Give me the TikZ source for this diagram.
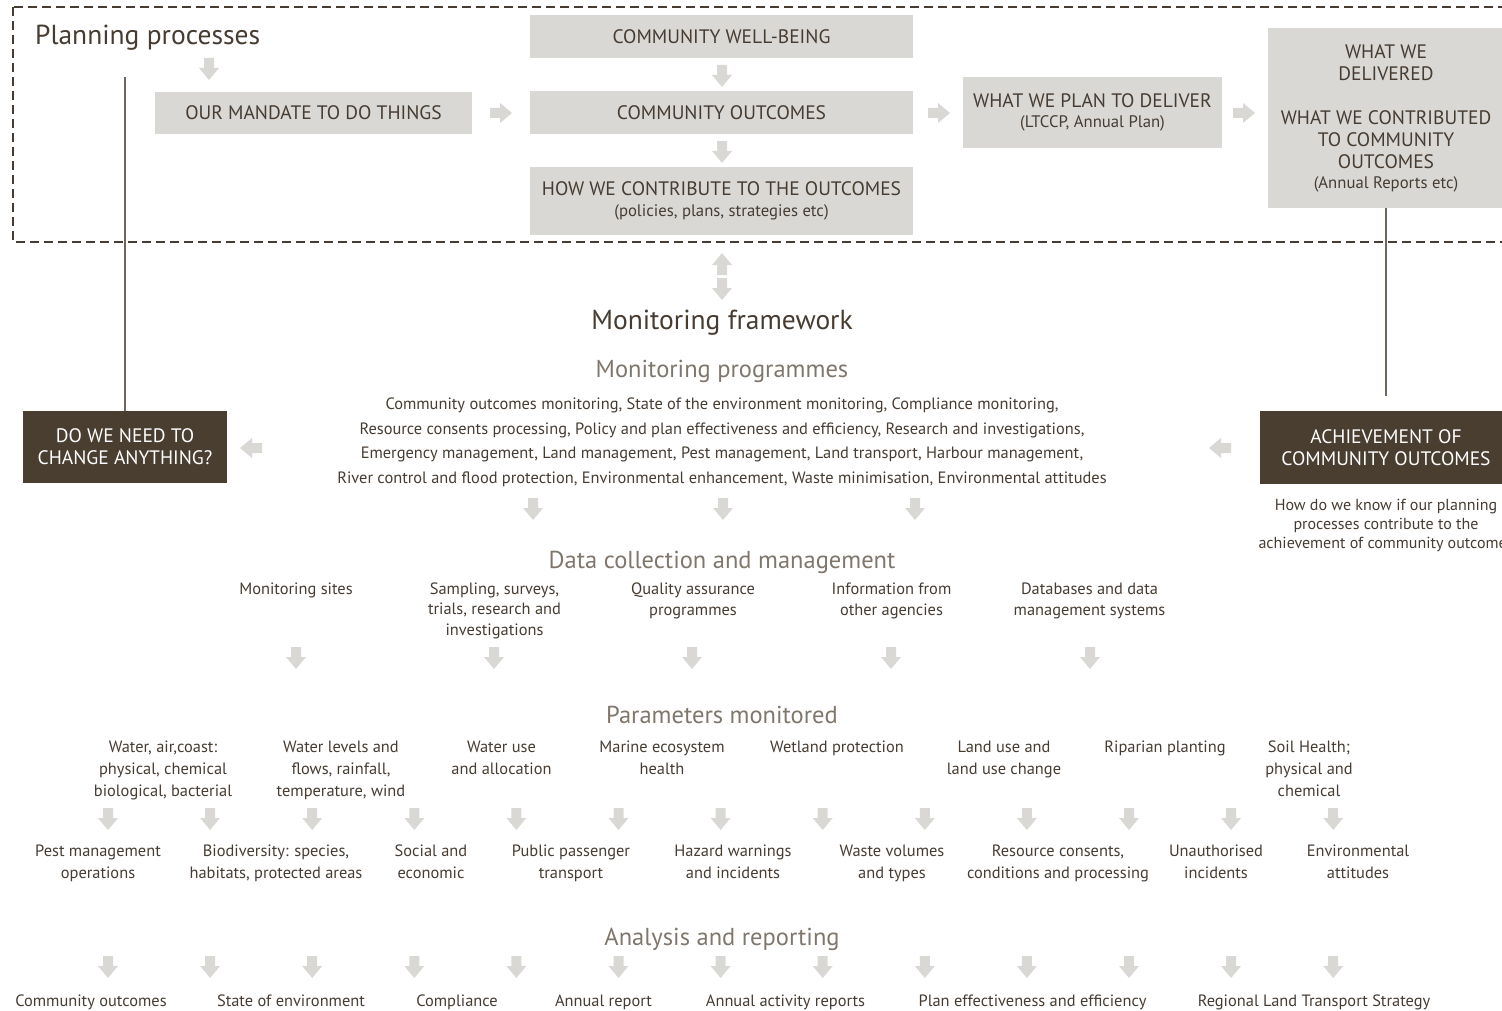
\documentclass[tikz,border=0pt]{standalone}
\usepackage{fontspec}
\setmainfont{PT Sans}
\usetikzlibrary{positioning}
\definecolor{ink}{HTML}{463C32}
\definecolor{boxgrey}{HTML}{D9D8D4}
\definecolor{arrowgrey}{HTML}{D9D8D4}
\definecolor{boxdark}{HTML}{4A3E31}
\definecolor{headgrey}{HTML}{7F766C}
\definecolor{rulegrey}{HTML}{6F665C}
\newcommand{\fsz}[2]{\fontsize{#1}{#2}\selectfont}
\newcommand{\paren}{\fsz{16.7}{20}}

\tikzset{
  greybox/.style={fill=boxgrey, text=ink, inner sep=0pt, align=center, font=\fsz{19.5}{22}},
  darkbox/.style={fill=boxdark, text=white, inner sep=0pt, align=center, font=\fsz{19.5}{22}},
  strutted/.style={execute at begin node=\strut, execute at end node=\strut},
  bigheading/.style={strutted, text=ink, inner sep=0pt, font=\fsz{27.5}{33}},
  subheading/.style={strutted, text=headgrey, inner sep=0pt, font=\fsz{24.5}{29.4}},
  body/.style={strutted, text=ink, inner sep=0pt, align=center, font=\fsz{16.4}{22}},
  frame/.style={draw=ink, line width=1.4pt, dash pattern=on 9pt off 5pt},
  rule/.style={draw=rulegrey, line width=1.2pt},
  pics/blockarrow/.style={code={
    \fill[arrowgrey] (-5,-11) -- (5,-11) -- (5,-1) -- (10,-1) -- (0,11) -- (-10,-1) -- (-5,-1) -- cycle;
  }}
}

\begin{document}
\begin{tikzpicture}[x=1pt,y=-1pt]
  \clip (0,0) rectangle (1502,1011);
  % planning processes
  \draw[frame] (13,7) rectangle (1512,242);
  \node[bigheading, anchor=west] (planning) at (35,38) {Planning processes};
  \node[greybox, minimum width=317, minimum height=42] (mandate) at (313.5,113) {OUR MANDATE TO DO THINGS};
  \node[greybox, minimum width=383, minimum height=43] (wellbeing) at (721.5,36.5) {COMMUNITY WELL-BEING};
  \node[greybox, minimum width=383, minimum height=43] (outcomes) at (721.5,112.5) {COMMUNITY OUTCOMES};
  \node[greybox, minimum width=383, minimum height=68] (contribute) at (721.5,201) {HOW WE CONTRIBUTE TO THE OUTCOMES\\[-1pt]{\paren(policies, plans, strategies etc)}};
  \node[greybox, minimum width=259, minimum height=71] (plan) at (1092.5,112.5) {WHAT WE PLAN TO DELIVER\\[-2pt]{\paren(LTCCP, Annual Plan)}};
  \node[greybox, minimum width=236, minimum height=180] (delivered) at (1386,118) {WHAT WE\\DELIVERED\\[22pt]WHAT WE CONTRIBUTED\\TO COMMUNITY\\OUTCOMES\\[-2pt]{\paren(Annual Reports etc)}};
  \pic at (209,69) {blockarrow};
  \pic at (722,76) {blockarrow};
  \pic at (722,152) {blockarrow};
  \foreach \x in {501,939,1244}
    \pic[rotate=90] at (\x,113) {blockarrow};

  % monitoring framework
  \pic[rotate=180] at (722,264) {blockarrow};
  \pic at (722,289) {blockarrow};
  \node[bigheading] (framework) at (722,323) {Monitoring framework};
  \node[subheading] (programmes) at (722,371.7) {Monitoring programmes};
  \node[body, font=\fsz{16.4}{24.6}] (programmelist) at (722,444.5) {Community outcomes monitoring, State of the environment monitoring, Compliance monitoring,\\Resource consents processing, Policy and plan effectiveness and efficiency, Research and investigations,\\Emergency management, Land management, Pest management, Land transport, Harbour management,\\River control and flood protection, Environmental enhancement, Waste minimisation, Environmental attitudes};
  \node[darkbox, minimum width=204, minimum height=72] (change) at (125,447) {DO WE NEED TO\\CHANGE ANYTHING?};
  \node[darkbox, minimum width=252, minimum height=73] (achieve) at (1386,447.5) {ACHIEVEMENT OF\\COMMUNITY OUTCOMES};
  \node[body, font=\fsz{16}{19}] (howknow) at (1386,526.8) {How do we know if our planning\\processes contribute to the\\achievement of community outcomes};
  \coordinate (ruletop) at (125,77);
  \draw[rule] (ruletop) -- (change.north);
  \draw[rule] (delivered.south) -- ([yshift=15pt]achieve.north);
  \pic[rotate=-90] at (251,448) {blockarrow};
  \pic[rotate=-90] at (1220,448) {blockarrow};
  \foreach \x in {533,723,915}
    \pic at (\x,509) {blockarrow};

  % data collection
  \node[subheading] (datahead) at (722,562.7) {Data collection and management};
  \node[body, font=\fsz{16.4}{21}] (sites) at (296,590.5) {Monitoring sites};
  \node[body, font=\fsz{16.4}{20.5}] (sampling) at (494.5,612) {Sampling, surveys,\\trials, research and\\investigations};
  \node[body, font=\fsz{16.4}{21}] (quality) at (693,602.5) {Quality assurance\\programmes};
  \node[body, font=\fsz{16.4}{21}] (agencies) at (891.5,602.5) {Information from\\other agencies};
  \node[body, font=\fsz{16.4}{21}] (databases) at (1089.5,602.5) {Databases and data\\management systems};
  \foreach \x in {296,494,692,891,1090}
    \pic at (\x,658) {blockarrow};

  % parameters
  \node[subheading] (paramhead) at (722,717.7) {Parameters monitored};
  \node[body] (water) at (163,771.8) {Water, air,coast:\\physical, chemical\\biological, bacterial};
  \node[body] (levels) at (341,771.8) {Water levels and\\flows, rainfall,\\temperature, wind};
  \node[body] (wateruse) at (501.5,760.8) {Water use\\and allocation};
  \node[body] (marine) at (662,760.8) {Marine ecosystem\\health};
  \node[body] (wetland) at (837,748.3) {Wetland protection};
  \node[body] (landuse) at (1004,760.8) {Land use and\\land use change};
  \node[body] (riparian) at (1165,748.3) {Riparian planting};
  \node[body] (soil) at (1309,771.8) {Soil Health;\\physical and\\chemical};
  \foreach \i in {0,...,12}
    \pic at ({108+102.1*\i},819) {blockarrow};
  \node[body] (pest) at (98,864.8) {Pest management\\operations};
  \node[body] (biodiversity) at (276,864.8) {Biodiversity: species,\\habitats, protected areas};
  \node[body] (social) at (431,864.8) {Social and\\economic};
  \node[body] (passenger) at (571,864.8) {Public passenger\\transport};
  \node[body] (hazard) at (733,864.8) {Hazard warnings\\and incidents};
  \node[body] (waste) at (892,864.8) {Waste volumes\\and types};
  \node[body] (consents) at (1058,864.8) {Resource consents,\\conditions and processing};
  \node[body] (unauthorised) at (1216,864.8) {Unauthorised\\incidents};
  \node[body] (attitudes) at (1358,864.8) {Environmental\\attitudes};

  % analysis and reporting
  \node[subheading] (analysishead) at (722,939.7) {Analysis and reporting};
  \foreach \i in {0,...,12}
    \pic at ({108+102.1*\i},967) {blockarrow};
  \node[body] (repcommunity) at (91,1002.3) {Community outcomes};
  \node[body] (repstate) at (291,1002.3) {State of environment};
  \node[body] (repcompliance) at (457,1002.3) {Compliance};
  \node[body] (repannual) at (603.5,1002.3) {Annual report};
  \node[body] (repactivity) at (785.5,1002.3) {Annual activity reports};
  \node[body] (repplan) at (1032.5,1002.3) {Plan effectiveness and efficiency};
  \node[body] (reptransport) at (1314,1002.3) {Regional Land Transport Strategy};
\end{tikzpicture}
\end{document}
